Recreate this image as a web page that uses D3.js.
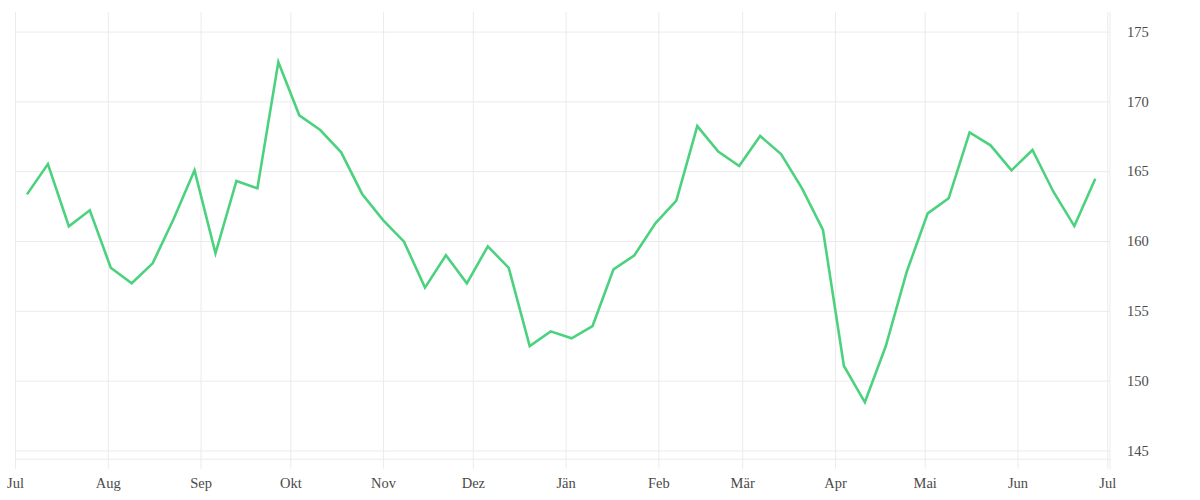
<!DOCTYPE html>
<html>
<head>
<meta charset="utf-8">
<script src="https://cdn.jsdelivr.net/npm/d3@7"></script>
<style>
  html, body { margin: 0; padding: 0; background: #fff; }
  svg { display: block; }
  .tick text { font-family: "Liberation Serif", "DejaVu Serif", serif; font-size: 14.5px; fill: #4a4a4a; }
</style>
</head>
<body>
<svg id="chart" width="1200" height="500"></svg>
<script>
// ---- data ----
const dates = [
  "2022-07-05","2022-07-12","2022-07-19","2022-07-26","2022-08-02","2022-08-09","2022-08-16","2022-08-23",
  "2022-08-30","2022-09-06","2022-09-13","2022-09-20","2022-09-27","2022-10-04","2022-10-11","2022-10-18",
  "2022-10-25","2022-11-01","2022-11-08","2022-11-15","2022-11-22","2022-11-29","2022-12-06","2022-12-13",
  "2022-12-20","2022-12-27","2023-01-03","2023-01-10","2023-01-17","2023-01-24","2023-01-31","2023-02-07",
  "2023-02-14","2023-02-21","2023-02-28","2023-03-07","2023-03-14","2023-03-21","2023-03-28","2023-04-04",
  "2023-04-11","2023-04-18","2023-04-25","2023-05-02","2023-05-09","2023-05-16","2023-05-23","2023-05-30",
  "2023-06-06","2023-06-13","2023-06-20","2023-06-27"
];
const values = [
  163.34, 165.51, 161.05, 162.20, 158.09, 156.97, 158.40, 161.58,
  165.06, 159.12, 164.30, 163.77, 172.82, 169.00, 167.95, 166.35,
  163.37, 161.50, 159.95, 156.66, 158.98, 156.97, 159.62, 158.07,
  152.48, 153.53, 153.03, 153.91, 157.97, 158.98, 161.27, 162.89,
  168.23, 166.41, 165.37, 167.52, 166.23, 163.77, 160.79, 151.05,
  148.45, 152.48, 157.80, 161.98, 163.06, 167.78, 166.85, 165.06,
  166.52, 163.53, 161.07, 164.46
];
const yTicks = [145, 150, 155, 160, 165, 170, 175];
const monthLabels = ["Jul","Aug","Sep","Okt","Nov","Dez","Jän","Feb","Mär","Apr","Mai","Jun","Jul"];
const monthTicks = [
  "2022-07-01","2022-08-01","2022-09-01","2022-10-01","2022-11-01","2022-12-01","2023-01-01",
  "2023-02-01","2023-03-01","2023-04-01","2023-05-01","2023-06-01","2023-07-01"
];

(function () {
  // ---- layout ----
  const pLeft = 15, pRight = 1110, pTop = 12, pBottom = 458.7;
  const parse = d3.timeParse("%Y-%m-%d");
  const data = dates.map((d, i) => ({ date: parse(d), value: values[i] }));
  const tickDates = monthTicks.map(parse);

  const x = d3.scaleTime()
    .domain([new Date(2022, 6, 1), new Date(2023, 6, 1, 22)])
    .range([pLeft, pRight]);
  const y = d3.scaleLinear()
    .domain([144.41, 176.4])
    .range([pBottom, pTop]);

  const svg = d3.select("#chart");
  const grid = "#ebebeb";

  // x axis with gridlines
  const xAxis = d3.axisBottom(x)
    .tickValues(tickDates)
    .tickFormat((d, i) => monthLabels[i])
    .tickSizeInner(10)
    .tickSizeOuter(0)
    .tickPadding(18);
  const gx = svg.append("g")
    .attr("transform", `translate(0,${pBottom})`)
    .call(xAxis);
  gx.select(".domain").attr("stroke", grid);
  gx.selectAll(".tick line").attr("stroke", grid).attr("y1", -(pBottom - pTop)).attr("y2", 10);
  gx.selectAll(".tick text").attr("dy", "0.71em").attr("y", 19);

  // y axis on right with gridlines
  const yAxis = d3.axisRight(y)
    .tickValues(yTicks)
    .tickSizeInner(-(pRight - pLeft))
    .tickSizeOuter(0)
    .tickPadding(17);
  const gy = svg.append("g")
    .attr("transform", `translate(${pRight},0)`)
    .call(yAxis);
  gy.select(".domain").attr("stroke", grid).attr("d", `M0,${pTop}V${pBottom + 11}`);
  gy.selectAll(".tick line").attr("stroke", grid);

  // line
  const line = d3.line()
    .x(d => x(d.date))
    .y(d => y(d.value));
  svg.append("path")
    .datum(data)
    .attr("fill", "none")
    .attr("stroke", "#4cd27f")
    .attr("stroke-width", 2.6)
    .attr("stroke-linejoin", "miter")
    .attr("d", line);
})();
</script>
</body>
</html>
